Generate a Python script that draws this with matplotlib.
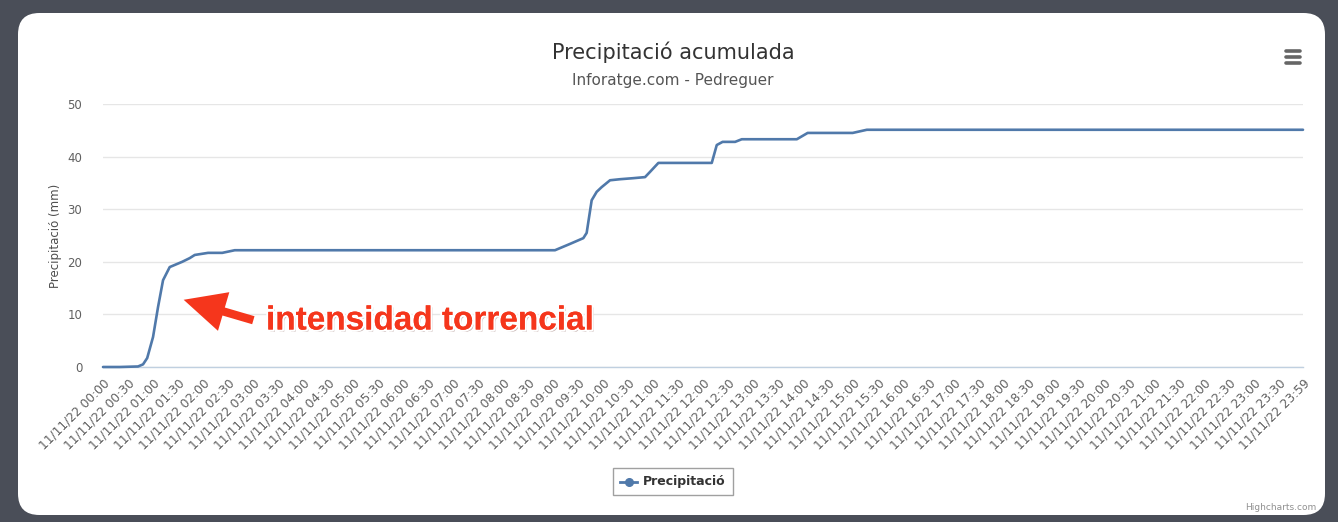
import matplotlib
matplotlib.use("Agg")
import matplotlib.pyplot as plt
from matplotlib.patches import FancyBboxPatch, Rectangle, FancyArrowPatch
from matplotlib.lines import Line2D
import matplotlib.patheffects as pe

# ---- data (minutes since 00:00 on 11/11/22, accumulated mm) ----
minutes = [0, 20, 42, 48, 53, 60, 66, 72, 80, 95, 104, 110, 126, 143, 158,
           300, 450, 542, 560, 576, 580, 586, 592, 598, 608, 620, 636, 650,
           656, 666, 700, 730, 736, 743, 758, 766, 800, 832, 845, 870, 899,
           916, 1000, 1200, 1439]
precip = [0, 0, 0.1, 0.5, 1.7, 5.7, 11.4, 16.5, 19.0, 20.0, 20.7, 21.3, 21.7, 21.7, 22.2,
          22.2, 22.2, 22.2, 23.4, 24.5, 25.5, 31.7, 33.3, 34.2, 35.5, 35.7, 35.9, 36.1,
          37.1, 38.8, 38.8, 38.8, 42.2, 42.8, 42.8, 43.3, 43.3, 43.3, 44.5, 44.5, 44.5,
          45.1, 45.1, 45.1, 45.1]
tick_minutes = list(range(0, 1440, 30)) + [1439]
tick_labels = ["11/11/22 %02d:%02d" % (m // 60, m % 60) for m in tick_minutes]
yticks = [0, 10, 20, 30, 40, 50]

W, H = 1338, 522
fig = plt.figure(figsize=(W / 100, H / 100), dpi=100)
fig.patch.set_facecolor("#4a4e58")

def fx(px):
    return px / W

def fy(py):
    return 1 - py / H

# white rounded panel
panel = FancyBboxPatch((fx(18), fy(515)), fx(1325) - fx(18), fy(13) - fy(515),
                       boxstyle="round,pad=0,rounding_size=0.016",
                       transform=fig.transFigure, facecolor="white",
                       edgecolor="none", mutation_aspect=W / H, zorder=-5)
fig.patches.append(panel)

LINE = "#5079aa"
ax = fig.add_axes([fx(103), fy(367), fx(1303) - fx(103), fy(104) - fy(367)], zorder=2)
ax.set_facecolor("none")
ax.plot(minutes, precip, color=LINE, lw=1.9, solid_joinstyle="round",
        solid_capstyle="round", zorder=3, clip_on=False)
ax.set_xlim(0, 1439)
ax.set_ylim(0, 50)
ax.set_yticks(yticks)
ax.set_yticklabels([str(v) for v in yticks], color="#606060", fontsize=8.5)
ax.yaxis.grid(True, color="#e6e6e6", lw=1)
ax.set_axisbelow(True)
for s in ["top", "right", "left"]:
    ax.spines[s].set_visible(False)
ax.spines["bottom"].set_color("#c0d0e0")
ax.spines["bottom"].set_linewidth(1)
ax.tick_params(axis="y", length=0, pad=15)
ax.tick_params(axis="x", length=0, pad=7)
ax.set_xticks(tick_minutes)
ax.set_xticklabels(tick_labels, rotation=45, ha="right", va="top",
                   rotation_mode="anchor", color="#606060", fontsize=8.8)
ax.set_ylabel("Precipitació (mm)", color="#4d4d4d", fontsize=8.5, labelpad=4)

# title / subtitle
fig.text(fx(673), fy(52), "Precipitació acumulada", ha="center", va="center",
         fontsize=15, color="#333333")
fig.text(fx(673), fy(81), "Inforatge.com - Pedreguer", ha="center", va="center",
         fontsize=11, color="#555555")

# hamburger icon
for yy in (51, 57, 63):
    fig.add_artist(Line2D([fx(1286), fx(1300)], [fy(yy), fy(yy)], color="#666666",
                          lw=2.6, solid_capstyle="round", transform=fig.transFigure))

# annotation
txt = fig.text(fx(266), fy(321), "intensidad torrencial", ha="left", va="center",
               fontsize=24, fontweight="bold", color="#f5361c",
               family="Liberation Sans", zorder=5)
txt.set_path_effects([pe.SimplePatchShadow(offset=(1.5, -1.5), alpha=0.3),
                      pe.withStroke(linewidth=3, foreground="white"),
                      pe.Normal()])
fig.add_artist(FancyArrowPatch(
    (fx(256), fy(321)), (fx(181), fy(299)), transform=fig.transFigure,
    arrowstyle="simple,head_length=1.5,head_width=1.45,tail_width=0.3",
    mutation_scale=20, color="#f5361c", lw=0, zorder=5))

# legend box
fig.patches.append(Rectangle((fx(613), fy(495)), fx(733) - fx(613), fy(468) - fy(495),
                             transform=fig.transFigure, facecolor="white",
                             edgecolor="#a0a0a0", lw=1, zorder=1))
fig.add_artist(Line2D([fx(620), fx(637)], [fy(482), fy(482)], color=LINE, lw=2,
                      transform=fig.transFigure, zorder=2))
fig.add_artist(Line2D([fx(628.5)], [fy(482)], color=LINE, marker="o",
                      markersize=5.5, transform=fig.transFigure, zorder=3))
fig.text(fx(643), fy(482), "Precipitació", ha="left", va="center", fontsize=9,
         fontweight="bold", color="#333333")

fig.text(fx(1316), fy(508), "Highcharts.com", ha="right", va="center", fontsize=6.5,
         color="#909090")

fig.savefig("out.png", dpi=100, facecolor=fig.get_facecolor())
